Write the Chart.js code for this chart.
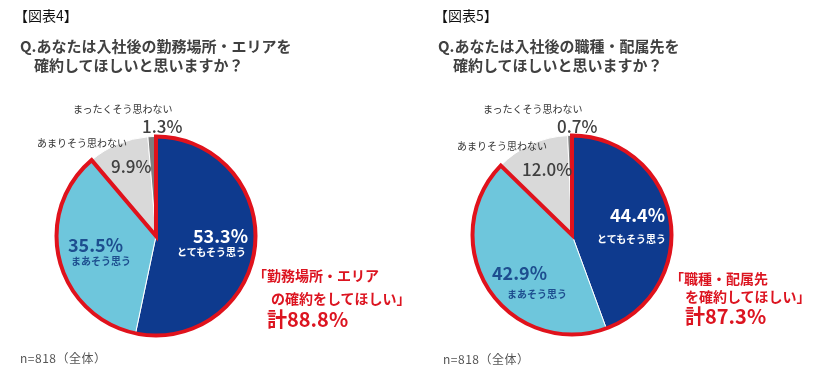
<!DOCTYPE html>
<html>
<head>
<meta charset="utf-8">
<script src="https://cdn.jsdelivr.net/npm/chart.js@4/dist/chart.umd.min.js"></script>
<style>
  html, body { margin: 0; padding: 0; background: #fff; }
  #wrap { position: relative; width: 814px; height: 369px; overflow: hidden;
          font-family: "Noto Sans CJK JP", "Noto Sans", sans-serif; }
  .panel { position: absolute; top: 0; width: 407px; height: 369px; }
  .panel canvas { position: absolute; left: 0; top: 0; }
  .t { position: absolute; white-space: nowrap; transform: translateY(-50%); line-height: 1; }
  .fig { font-size: 14px; color: #111; }
  .q { font-size: 15px; font-weight: bold; color: #404040; }
  .small { font-size: 10px; color: #333; }
  .pct { font-size: 17px; font-weight: 500; color: #404040; }
  .big { font-size: 18px; font-weight: bold; }
  .lab { font-size: 10px; font-weight: bold; }
  .red { color: #dc1420; font-size: 14px; font-weight: bold; }
  .total { color: #dc1420; font-size: 20px; font-weight: bold; }
  .n { font-size: 12px; color: #555; letter-spacing: 0.5px; }
</style>
</head>
<body>
<div id="wrap"></div>
<script>
// data
const categories = ['とてもそう思う', 'まあそう思う', 'あまりそう思わない', 'まったくそう思わない'];
const areaValues = [53.3, 35.5, 9.9, 1.3];
const jobValues = [44.4, 42.9, 12.0, 0.7];
const areaTotal = 88.8;
const jobTotal = 87.3;
const figTitles = ['【図表4】', '【図表5】'];
const questions = [
    ['Q.あなたは入社後の勤務場所・エリアを', '確約してほしいと思いますか？'],
    ['Q.あなたは入社後の職種・配属先を', '確約してほしいと思いますか？']
];
const callouts = [
    ['「勤務場所・エリア', 'の確約をしてほしい」'],
    ['「職種・配属先', 'を確約してほしい」']
];
const sampleNote = 'n=818（全体）';

const sliceColors = ['#0e3a8e', '#6ec6dc', '#d9d9d9', '#7f7f7f'];

// red outline round the two "agree" slices
const outlinePlugin = {
    id: 'agreeOutline',
    afterDatasetsDraw(chart) {
        const arcs = chart.getDatasetMeta(0).data;
        const first = arcs[0], second = arcs[1];
        const { x, y, outerRadius } = first.getProps(['x', 'y', 'outerRadius'], true);
        const start = first.startAngle;
        const end = second.endAngle;
        const ctx = chart.ctx;
        ctx.save();
        ctx.beginPath();
        ctx.moveTo(x, y);
        ctx.lineTo(x + outerRadius * Math.cos(start), y + outerRadius * Math.sin(start));
        ctx.arc(x, y, outerRadius, start, end);
        ctx.closePath();
        ctx.lineWidth = 4;
        ctx.lineJoin = 'miter';
        ctx.strokeStyle = '#e0121c';
        ctx.stroke();
        ctx.restore();
    }
};

function pct(v) {
    return v.toFixed(1) + '%';
}

function addText(parent, cls, text, x, y) {
    const el = document.createElement('div');
    el.className = 't ' + cls;
    el.textContent = text;
    el.style.left = x + 'px';
    el.style.top = y + 'px';
    parent.appendChild(el);
    return el;
}

function createPie(panel, values, padding) {
    const canvas = document.createElement('canvas');
    canvas.width = 407;
    canvas.height = 369;
    canvas.style.width = '407px';
    canvas.style.height = '369px';
    panel.appendChild(canvas);
    return new Chart(canvas, {
        type: 'pie',
        data: {
            labels: categories,
            datasets: [{
                data: values,
                backgroundColor: sliceColors,
                borderColor: '#ffffff',
                borderWidth: 1
            }]
        },
        options: {
            responsive: false,
            animation: false,
            events: [],
            layout: { padding },
            plugins: {
                legend: { display: false },
                tooltip: { enabled: false }
            }
        },
        plugins: [outlinePlugin]
    });
}

function buildPanel(idx, values, total, left, pos) {
    const panel = document.createElement('div');
    panel.className = 'panel';
    panel.style.left = left + 'px';
    document.getElementById('wrap').appendChild(panel);

    createPie(panel, values, pos.pad);

    addText(panel, 'fig', figTitles[idx], pos.fig[0], pos.fig[1]);
    addText(panel, 'q', questions[idx][0], pos.q1[0], pos.q1[1]);
    addText(panel, 'q', questions[idx][1], pos.q2[0], pos.q2[1]);

    addText(panel, 'small', categories[3], pos.cat3[0], pos.cat3[1]);
    addText(panel, 'pct', pct(values[3]), pos.v3[0], pos.v3[1]);
    addText(panel, 'small', categories[2], pos.cat2[0], pos.cat2[1]);
    addText(panel, 'pct', pct(values[2]), pos.v2[0], pos.v2[1]);

    addText(panel, 'big', pct(values[0]), pos.v0[0], pos.v0[1]).style.color = '#ffffff';
    addText(panel, 'lab', categories[0], pos.cat0[0], pos.cat0[1]).style.color = '#ffffff';
    addText(panel, 'big', pct(values[1]), pos.v1[0], pos.v1[1]).style.color = '#1d4e8f';
    addText(panel, 'lab', categories[1], pos.cat1[0], pos.cat1[1]).style.color = '#1d4e8f';

    addText(panel, 'red', callouts[idx][0], pos.r1[0], pos.r1[1]);
    addText(panel, 'red', callouts[idx][1], pos.r2[0], pos.r2[1]);
    addText(panel, 'total', '計' + pct(total), pos.tot[0], pos.tot[1]);

    addText(panel, 'n', sampleNote, pos.n[0], pos.n[1]);
}

buildPanel(0, areaValues, areaTotal, 0, {
    pad: { left: 56, right: 151, top: 136, bottom: 33 },
    fig: [14, 15], q1: [20, 45], q2: [34, 64],
    cat3: [73, 109], v3: [142, 125], cat2: [37, 143], v2: [111, 165],
    v0: [193, 235], cat0: [177, 252], v1: [68, 244], cat1: [71, 261],
    r1: [253, 275], r2: [271, 298], tot: [267, 319], n: [20, 358]
});

buildPanel(1, jobValues, jobTotal, 407, {
    pad: { left: 65, right: 142, top: 135, bottom: 34 },
    fig: [27, 15], q1: [31, 45], q2: [46, 64],
    cat3: [76, 109], v3: [150, 125], cat2: [50, 146], v2: [115, 168],
    v0: [203, 214], cat0: [190, 239], v1: [85, 272], cat1: [100, 294],
    r1: [263, 278], r2: [278, 296], tot: [278, 316], n: [36, 359]
});
</script>
</body>
</html>
